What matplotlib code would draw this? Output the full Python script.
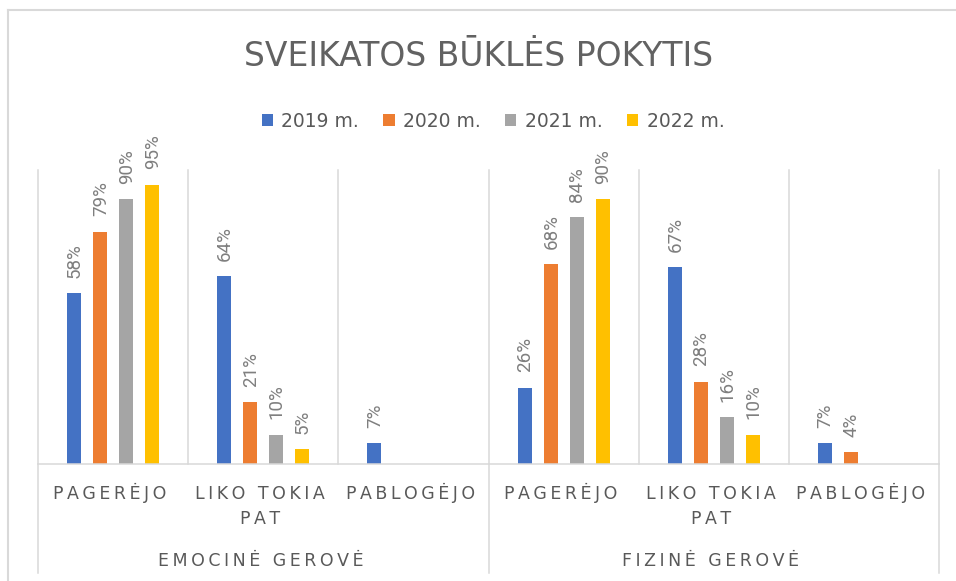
import matplotlib
matplotlib.use("Agg")
import matplotlib.pyplot as plt
import matplotlib.transforms as mtransforms
from matplotlib.lines import Line2D
from matplotlib.patches import Patch
import numpy as np

# ---------------- data ----------------
title = "SVEIKATOS BŪKLĖS POKYTIS"
groups = ["EMOCINĖ GEROVĖ", "FIZINĖ GEROVĖ"]
categories = [["PAGERĖJO"], ["LIKO TOKIA", "PAT"], ["PABLOGĖJO"],
              ["PAGERĖJO"], ["LIKO TOKIA", "PAT"], ["PABLOGĖJO"]]
series_names = ["2019 m.", "2020 m.", "2021 m.", "2022 m."]
v2019 = [58, 64, 7, 26, 67, 7]
v2020 = [79, 21, None, 68, 28, 4]
v2021 = [90, 10, None, 84, 16, None]
v2022 = [95, 5, None, 90, 10, None]
series_values = [v2019, v2020, v2021, v2022]
colors = ["#4472C4", "#ED7D31", "#A5A5A5", "#FFC000"]

# ---------------- layout ----------------
W, H = 956, 581
fig = plt.figure(figsize=(W / 100, H / 100), dpi=100)
L, R, T, B = 38, 939, 170, 464
ax = fig.add_axes([L / W, 1 - B / H, (R - L) / W, (B - T) / H])

FONT = ["DejaVu Sans"]
LFONT = ["Roboto", "DejaVu Sans"]
TXT = "#595959"
LBL = "#7F7F7F"
GRID = "#D9D9D9"
THIN = "\u2009"


def track(s):
    return (THIN + " " + THIN).join(THIN.join(w) for w in s.split(" "))


def ypx(y):  # pixel y -> axes fraction
    return (B - y) / (B - T)


n = len(categories)
x = np.arange(n) + 0.5
bw = 0.093
step = 0.173
offsets = (np.arange(len(series_values)) - 1.5) * step

for vals, col, off in zip(series_values, colors, offsets):
    arr = np.array([np.nan if v is None else v for v in vals], dtype=float)
    ax.bar(x + off, arr, width=bw, color=col, zorder=3)
    for xi, v in zip(x + off, arr):
        if not np.isnan(v):
            ax.annotate(f"{int(v)}%", (xi, v), xytext=(0.5, 11), textcoords="offset points",
                        rotation=90, ha="center", va="bottom", fontsize=13.5,
                        color=LBL, family=LFONT)

ax.set_xlim(0, n)
ax.set_ylim(0, 100)
for s in ax.spines.values():
    s.set_visible(False)
ax.set_xticks([])
ax.set_yticks([])

# gridlines at category boundaries
for b in range(n + 1):
    ax.plot([b, b], [0, 100], color=GRID, lw=1.1, zorder=1, clip_on=False)
ax.plot([0, n], [0, 0], color=GRID, lw=1.1, zorder=4, clip_on=False)
xt = ax.get_xaxis_transform()
for b in (0, 3, 6):
    ax.plot([b, b], [0, ypx(573)], color=GRID, lw=1.1, transform=xt, clip_on=False)

# category labels (shifted slightly left, like Excel's trailing letter spacing)
shift = mtransforms.ScaledTranslation(-3 / 100, 0, fig.dpi_scale_trans)
for xi, lines in zip(x, categories):
    for k, line in enumerate(lines):
        ax.text(xi, ypx(499 + 25 * k), track(line), transform=xt + shift, ha="center",
                va="baseline", fontsize=12.5, color=TXT, family=FONT)
for gi, g in enumerate(groups):
    ax.text(gi * 3 + 1.5, ypx(566), track(g), transform=xt + shift, ha="center",
            va="baseline", fontsize=12.5, color=TXT, family=FONT)

# title
fig.text(478.5 / W, 1 - 66 / H, title, ha="center", va="baseline", fontsize=23.8,
         color="#626262", family=FONT)

# legend
handles = [Patch(facecolor=c, edgecolor="none") for c in colors]
leg = fig.legend(handles, series_names, loc="center", bbox_to_anchor=(493 / W, 1 - 121 / H),
                 ncol=4, frameon=False, handlelength=0.6, handleheight=0.6,
                 handletextpad=0.45, columnspacing=1.3, borderaxespad=0,
                 prop={"family": FONT, "size": 13.5})
for t in leg.get_texts():
    t.set_color(TXT)

# chart border
fig.add_artist(Line2D([8 / W, 8 / W], [0, 1 - 10 / H], color=GRID, lw=1.5, transform=fig.transFigure))
fig.add_artist(Line2D([8 / W, 1], [1 - 10 / H, 1 - 10 / H], color=GRID, lw=1.5, transform=fig.transFigure))

fig.savefig("out.png", dpi=100, facecolor="white")
